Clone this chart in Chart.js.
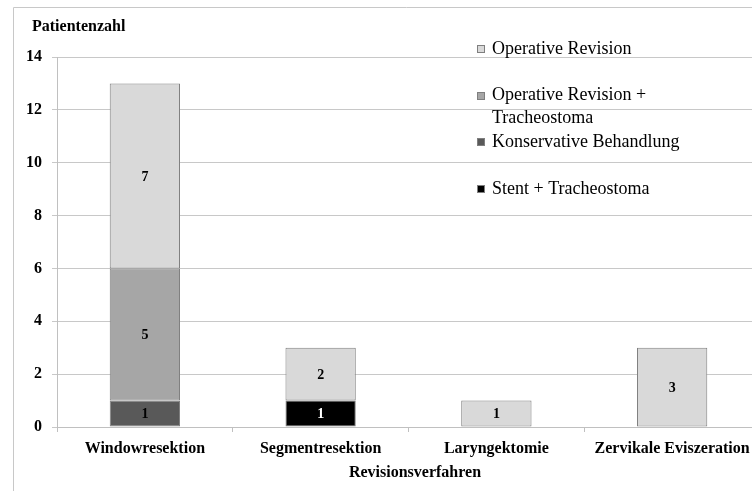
<!DOCTYPE html>
<html>
<head>
<meta charset="utf-8">
<script src="https://cdn.jsdelivr.net/npm/chart.js@4/dist/chart.umd.min.js"></script>
<style>
html,body{margin:0;padding:0;background:#fff;overflow:hidden;}
#wrap{position:absolute;left:0;top:0;width:800px;height:491px;}
</style>
</head>
<body>
<div id="wrap"><canvas id="c" width="800" height="491"></canvas></div>
<script>
const categories = ["Windowresektion", "Segmentresektion", "Laryngektomie", "Zervikale Eviszeration"];
const konservativeBehandlung = [1, 0, 0, 0];
const stentTracheostoma = [0, 1, 0, 0];
const operativeRevisionTracheostoma = [5, 0, 0, 0];
const operativeRevision = [7, 2, 1, 3];
const yTicks = [0, 2, 4, 6, 8, 10, 12, 14];
const yTitle = "Patientenzahl";
const xTitle = "Revisionsverfahren";

const SERIF = "'Liberation Serif', 'Times New Roman', serif";

const datasets = [
  {label: "Konservative Behandlung", data: konservativeBehandlung, backgroundColor: "#595959", labelColor: "#000", legendOrder: 2},
  {label: "Stent + Tracheostoma", data: stentTracheostoma, backgroundColor: "#000000", labelColor: "#fff", legendOrder: 3},
  {label: "Operative Revision + Tracheostoma", data: operativeRevisionTracheostoma, backgroundColor: "#a6a6a6", labelColor: "#000", legendOrder: 1, legendLines: ["Operative Revision +", "Tracheostoma"]},
  {label: "Operative Revision", data: operativeRevision, backgroundColor: "#d9d9d9", labelColor: "#000", legendOrder: 0}
].map(d => Object.assign(d, {borderColor: "#7f7f7f", borderWidth: 1, borderSkipped: false}));

const framePlugin = {
  id: 'frame',
  beforeDraw(chart) {
    const ctx = chart.ctx;
    ctx.save();
    ctx.strokeStyle = "#c8c8c8";
    ctx.lineWidth = 1;
    ctx.beginPath();
    ctx.moveTo(13.5, 491);
    ctx.lineTo(13.5, 7.5);
    ctx.lineTo(800, 7.5);
    ctx.stroke();
    ctx.fillStyle = "#000";
    ctx.font = "bold 16px " + SERIF;
    ctx.textBaseline = "middle";
    ctx.textAlign = "left";
    ctx.fillText(yTitle, 32, 27);
    // x axis title
    ctx.textAlign = "center";
    ctx.fillText(xTitle, 415, 473);
    ctx.restore();
  }
};

const labelPlugin = {
  id: 'vals',
  afterDatasetsDraw(chart) {
    const ctx = chart.ctx;
    ctx.save();
    ctx.font = "bold 14px " + SERIF;
    ctx.textAlign = "center";
    ctx.textBaseline = "middle";
    chart.data.datasets.forEach((ds, i) => {
      const meta = chart.getDatasetMeta(i);
      ctx.fillStyle = ds.labelColor;
      meta.data.forEach((bar, j) => {
        const v = ds.data[j];
        if (!v) return;
        const yc = (bar.y + bar.base) / 2;
        ctx.fillText(String(v), bar.x, yc + 1);
      });
    });
    ctx.restore();
  }
};

const legendPlugin = {
  id: 'customLegend',
  afterDraw(chart) {
    const ctx = chart.ctx;
    ctx.save();
    ctx.font = "18px " + SERIF;
    ctx.textBaseline = "middle";
    ctx.textAlign = "left";
    const items = chart.data.datasets.slice().sort((a, b) => a.legendOrder - b.legendOrder);
    const x0 = 477, tx = 492, y0 = 49, step = 46.7, lh = 22.5;
    items.forEach((ds, i) => {
      const y = y0 + i * step;
      ctx.fillStyle = ds.backgroundColor;
      ctx.fillRect(x0 + 0.5, Math.round(y - 4) + 0.5, 7, 7);
      ctx.strokeStyle = "#7f7f7f";
      ctx.lineWidth = 1;
      ctx.strokeRect(x0 + 0.5, Math.round(y - 4) + 0.5, 7, 7);
      ctx.fillStyle = "#000";
      const lines = ds.legendLines || [ds.label];
      lines.forEach((t, k) => ctx.fillText(t, tx, y + k * lh));
    });
    ctx.restore();
  }
};

new Chart(document.getElementById('c'), {
  type: 'bar',
  data: {labels: categories, datasets: datasets},
  options: {
    responsive: false,
    animation: false,
    devicePixelRatio: 1,
    layout: {padding: {top: 57, right: 40, left: 0, bottom: 0}},
    plugins: {legend: {display: false}, tooltip: {enabled: false}, title: {display: false}},
    datasets: {bar: {categoryPercentage: 1, barPercentage: 0.4}},
    scales: {
      x: {
        stacked: true,
        afterFit(s) { s.height = 64; },
        grid: {display: true, drawOnChartArea: false, drawTicks: true, tickLength: 5, color: "#c0c0c0", offset: true},
        border: {display: true, color: "#c0c0c0"},
        ticks: {color: "#000", font: {family: SERIF, size: 16, weight: 'bold'}, padding: 7, maxRotation: 0, autoSkip: false},
        title: {display: false}
      },
      y: {
        stacked: true,
        min: 0, max: 14,
        afterFit(s) { s.width = 57; },
        afterBuildTicks(s) { s.ticks = yTicks.map(v => ({value: v})); },
        grid: {color: "#c8c8c8", tickLength: 5, drawTicks: true},
        border: {display: true, color: "#c0c0c0"},
        ticks: {color: "#000", font: {family: SERIF, size: 16, weight: 'bold'}, padding: 10}
      }
    }
  },
  plugins: [framePlugin, labelPlugin, legendPlugin]
});
</script>
</body>
</html>
